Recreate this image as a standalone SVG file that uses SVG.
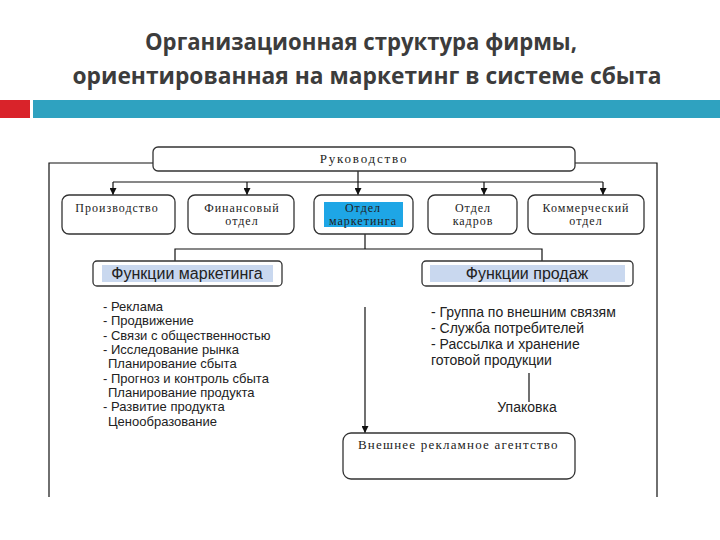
<svg xmlns="http://www.w3.org/2000/svg" width="720" height="540" viewBox="0 0 720 540">
<defs>
<marker id="arr" viewBox="0 0 10 10" refX="10" refY="5" markerWidth="7" markerHeight="7" markerUnits="userSpaceOnUse" orient="auto">
<path d="M0,0 L10,5 L0,10 z" fill="#111"/>
</marker>
<style>
.title{font-family:"Open Sans","Liberation Sans",sans-serif;font-weight:bold;font-size:23px;fill:#3c3c3c;text-anchor:middle}
.box{fill:#fff;stroke:#333;stroke-width:1.3}
.ser{font-family:"Liberation Serif",serif;font-size:12px;fill:#222;text-anchor:middle;letter-spacing:1px}
.sans{font-family:"Liberation Sans",sans-serif;font-size:13px;fill:#222}
.sans2{font-family:"Liberation Sans",sans-serif;font-size:14px;fill:#222}
.head{font-family:"Liberation Sans",sans-serif;font-size:16px;fill:#222;text-anchor:middle}
.ln{stroke:#111;stroke-width:1.2;fill:none}
</style>
</defs>
<rect width="720" height="540" fill="#fff"/>
<text class="title" x="361" y="50" textLength="432" lengthAdjust="spacingAndGlyphs">Организационная структура фирмы,</text>
<text class="title" x="367" y="84" textLength="589" lengthAdjust="spacingAndGlyphs">ориентированная на маркетинг в системе сбыта</text>
<rect x="0" y="100" width="30" height="18" fill="#d9232a"/>
<rect x="33" y="100" width="687" height="18" fill="#2fa2c0"/>

<g id="connectors">
<path class="ln" d="M153,163 H49 V497"/>
<path class="ln" d="M575,163 H657 V497"/>
<path class="ln" d="M113,182 H603"/>
<path class="ln" d="M358,171 V195" marker-end="url(#arr)"/>
<path class="ln" d="M113,182 V195" marker-end="url(#arr)"/>
<path class="ln" d="M247,182 V195" marker-end="url(#arr)"/>
<path class="ln" d="M484,182 V195" marker-end="url(#arr)"/>
<path class="ln" d="M603,182 V195" marker-end="url(#arr)"/>
<path class="ln" d="M365,234 V249"/>
<path class="ln" d="M175,261 V249 H542 V261"/>
<path class="ln" d="M365,307 V433" marker-end="url(#arr)"/>
<path class="ln" d="M529,373 V402"/>
</g>

<g id="n-rukovodstvo">
<rect class="box" x="153" y="147" width="422" height="24" rx="5"/>
<text class="ser" x="364" y="163" style="font-size:13px;letter-spacing:1.8px">Руководство</text>
</g>
<g id="n-proizvodstvo">
<rect class="box" x="62" y="195" width="113" height="39" rx="7"/>
<text class="ser" x="117" y="212">Производство</text>
</g>
<g id="n-finansovy">
<rect class="box" x="188" y="195" width="106" height="39" rx="7"/>
<text class="ser" x="242" y="212">Финансовый</text>
<text class="ser" x="242" y="225">отдел</text>
</g>
<g id="n-marketing">
<rect class="box" x="314" y="195" width="99" height="39" rx="7"/>
<rect x="324" y="202" width="79" height="25" fill="#1ea6e6"/>
<text class="ser" x="363" y="212">Отдел</text>
<text class="ser" x="363" y="225">маркетинга</text>
</g>
<g id="n-kadry">
<rect class="box" x="428" y="195" width="89" height="39" rx="7"/>
<text class="ser" x="473" y="212">Отдел</text>
<text class="ser" x="473" y="225">кадров</text>
</g>
<g id="n-kommerch">
<rect class="box" x="528" y="195" width="116" height="39" rx="7"/>
<text class="ser" x="586" y="212">Коммерческий</text>
<text class="ser" x="586" y="225">отдел</text>
</g>
<g id="n-func-marketing">
<rect class="box" x="93" y="261" width="189" height="25" rx="4"/>
<rect x="102" y="265" width="171" height="17" fill="#c9d8ef"/>
<text class="head" x="187" y="279">Функции маркетинга</text>
</g>
<g id="n-func-prodazh">
<rect class="box" x="422" y="261" width="211" height="25" rx="4"/>
<rect x="430" y="265" width="195" height="17" fill="#c9d8ef"/>
<text class="head" x="527" y="279">Функции продаж</text>
</g>
<g id="list-marketing">
<text class="sans" x="103" y="311">- Реклама</text>
<text class="sans" x="103" y="325">- Продвижение</text>
<text class="sans" x="103" y="340">- Связи с общественностью</text>
<text class="sans" x="103" y="354">- Исследование рынка</text>
<text class="sans" x="108" y="368">Планирование сбыта</text>
<text class="sans" x="103" y="383">- Прогноз и контроль сбыта</text>
<text class="sans" x="108" y="397">Планирование продукта</text>
<text class="sans" x="103" y="411">- Развитие продукта</text>
<text class="sans" x="108" y="426">Ценообразование</text>
</g>
<g id="list-prodazh">
<text class="sans2" x="431" y="317">- Группа по внешним связям</text>
<text class="sans2" x="431" y="333">- Служба потребителей</text>
<text class="sans2" x="431" y="349">- Рассылка и хранение</text>
<text class="sans2" x="431" y="365">готовой продукции</text>
</g>
<g id="n-upakovka">
<text class="sans2" x="527" y="412" text-anchor="middle">Упаковка</text>
</g>
<g id="n-agentstvo">
<rect class="box" x="343" y="433" width="232" height="46" rx="8"/>
<text class="ser" x="358" y="449" style="text-anchor:start;font-size:13px;letter-spacing:1.2px">Внешнее рекламное агентство</text>
</g>
</svg>
